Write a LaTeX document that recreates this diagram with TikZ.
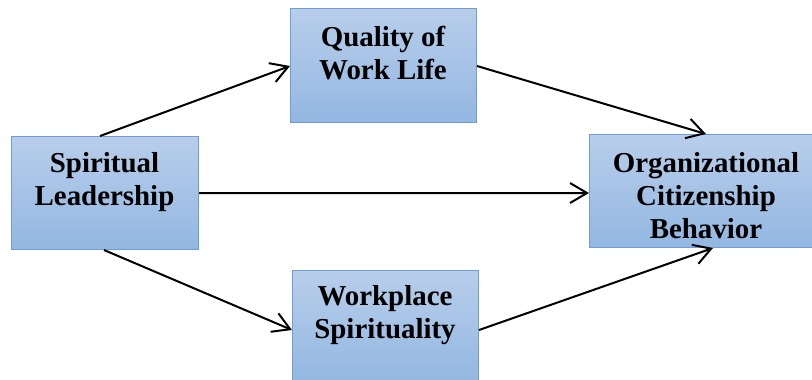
\documentclass[tikz,border=0pt]{standalone}
\usepackage{fontspec}
\setmainfont{Liberation Serif}
\usetikzlibrary{arrows.meta}
\definecolor{boxtop}{HTML}{B8CEEB}
\definecolor{boxbot}{HTML}{93B7E1}
\definecolor{boxline}{HTML}{6C9FD8}
\tikzset{
  varbox/.style={draw=boxline, line width=1bp, top color=boxtop, bottom color=boxbot,
    rectangle, inner sep=0pt, anchor=north west},
  vartext/.style={font=\fontsize{29}{33}\selectfont\bfseries, align=center,
    inner sep=0pt, anchor=north},
  arr/.style={line width=2bp, -{Straight Barb[length=17bp,width=20bp]}},
}
\begin{document}
\begin{tikzpicture}[x=1bp,y=-1bp]
\useasboundingbox (0,0) rectangle (812,379);
\begin{scope}
\clip (0,0) rectangle (812,379);
% boxes
\node[varbox, minimum width=187bp, minimum height=113bp] (sl) at (11,136) {};
\node[varbox, minimum width=186bp, minimum height=114bp] (qwl) at (290,8) {};
\node[varbox, minimum width=234bp, minimum height=113bp] (ocb) at (589,134) {};
\node[varbox, minimum width=186bp, minimum height=112bp] (wps) at (292,270) {};
% labels
\node[vartext] (slt) at (104.5,152) {Spiritual\\Leadership};
\node[vartext] (qwlt) at (383,26) {Quality of\\Work Life};
\node[vartext] (ocbt) at (706,152) {Organizational\\Citizenship\\Behavior};
\node[vartext] (wpst) at (385,285) {Workplace\\Spirituality};
\end{scope}
% connectors
\draw[arr] ([xshift=89bp]sl.north west) -- ([yshift=-58bp]qwl.north west);
\draw[arr] ([yshift=-58bp]qwl.north east) -- ([xshift=117bp]ocb.north west);
\draw[arr] ([yshift=-57bp]sl.north east) -- ([yshift=-59bp]ocb.north west);
\draw[arr] ([xshift=93bp]sl.south west) -- ([yshift=-60bp]wps.north west);
\draw[arr] ([yshift=-60bp]wps.north east) -- ([xshift=124bp]ocb.south west);
\end{tikzpicture}
\end{document}
